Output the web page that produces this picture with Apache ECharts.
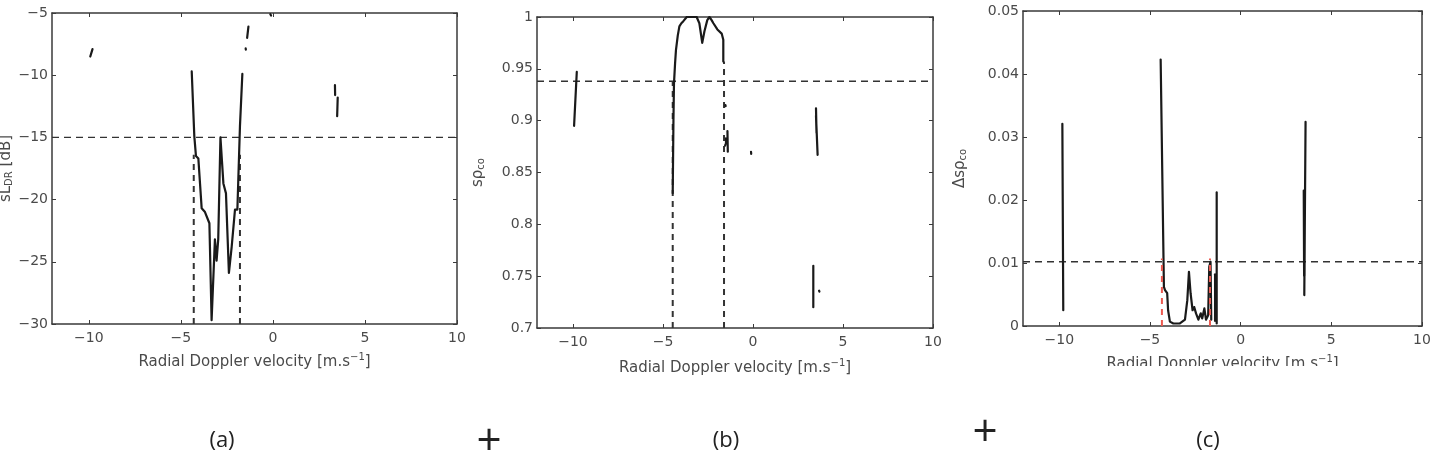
<!DOCTYPE html>
<html>
<head>
<meta charset="utf-8">
<script src="https://cdn.jsdelivr.net/npm/echarts@6/dist/echarts.min.js"></script>
<style>
  html, body { margin: 0; background: #fff; }
  #main { width: 1432px; height: 474px; }
</style>
</head>
<body>
<div id="main"></div>
<script>
// x ticks shared by the three panels
var velTicks = [-10, -5, 0, 5, 10];

// (a) sL_DR [dB]
var velA = [-4.41, -4.27, -4.18, -4.05, -3.87, -3.69, -3.45, -3.33, -3.15, -3.06, -2.97, -2.85, -2.82, -2.69, -2.55, -2.39, -2.24, -2.06, -1.93, -1.79, -1.66];
var sldrA = [-9.7, -14.9, -16.5, -16.7, -20.7, -21.0, -21.9, -29.7, -23.2, -24.9, -23.2, -15.0, -15.0, -18.7, -19.5, -25.9, -23.8, -20.8, -20.8, -14.1, -9.9];
var piecesA = [
  [[-9.92, -8.5], [-9.8, -7.9]],
  [[-1.40, -7.0], [-1.33, -6.1]],
  [[-1.48, -7.85], [-1.47, -7.95]],
  [[-0.14, -5.1], [-0.10, -5.2]],
  [[3.37, -10.8], [3.38, -11.6]],
  [[3.52, -11.8], [3.49, -13.3]]
];
var levelA = -15;
var cutsA = [-4.30, -1.79];
var cutTopA = [-16.4, -16.4];

// (b) s rho_co
var velB = [-4.46, -4.42, -4.39, -4.33, -4.28, -4.18, -4.09, -3.98, -3.87, -3.68, -3.40, -3.13, -2.98, -2.82, -2.70, -2.54, -2.42, -2.30, -2.20, -1.98, -1.74, -1.65, -1.65];
var rhoB = [0.830, 0.900, 0.936, 0.955, 0.968, 0.982, 0.991, 0.994, 0.996, 1.0, 1.0, 1.0, 0.994, 0.975, 0.986, 0.997, 1.0, 0.997, 0.994, 0.988, 0.984, 0.978, 0.957];
var piecesB = [
  [[-9.94, 0.895], [-9.79, 0.947]],
  [[-1.42, 0.890], [-1.40, 0.870]],
  [[-1.55, 0.876], [-1.50, 0.878], [-1.50, 0.883]],
  [[-1.53, 0.915], [-1.52, 0.914]],
  [[-0.11, 0.870], [-0.10, 0.868]],
  [[3.50, 0.912], [3.53, 0.888], [3.50, 0.905], [3.59, 0.867]],
  [[3.35, 0.760], [3.35, 0.720]],
  [[3.67, 0.736], [3.69, 0.735]]
];
var levelB = 0.938;
var cutsB = [-4.46, -1.61];
var cutTopB = [0.938, 0.957];

// (c) delta s rho_co
var velC = [-4.41, -4.23, -4.17, -4.05, -4.0, -3.9, -3.71, -3.35, -3.07, -2.94, -2.85, -2.76, -2.65, -2.56, -2.46, -2.33, -2.2, -2.12, -2.0, -1.91, -1.79, -1.73, -1.66, -1.62];
var drhoC = [0.0423, 0.0062, 0.0057, 0.0052, 0.0025, 0.0007, 0.0004, 0.0004, 0.001, 0.0041, 0.0086, 0.0052, 0.0025, 0.003, 0.002, 0.001, 0.002, 0.0012, 0.0028, 0.001, 0.0017, 0.0094, 0.0102, 0.001];
var piecesC = [
  [[-9.83, 0.0321], [-9.78, 0.0025]],
  [[-1.32, 0.0212], [-1.32, 0.0004]],
  [[-1.41, 0.0082], [-1.41, 0.0008]],
  [[3.58, 0.0324], [3.51, 0.0049]],
  [[3.48, 0.0215], [3.50, 0.0080]],
  [[3.40, 0.0417], [3.41, 0.0416]]
];
var levelC = 0.0102;
var cutsC = [-4.34, -1.69];
var cutTopC = [0.0107, 0.0107];

var ink = "#1a1a1a";
var textCol = "#4a4a4a";
var font = "DejaVu Sans";

function fmt(v) {
  return String(parseFloat(v.toFixed(3))).replace("-", "\u2212");
}

var panels = [
  { grid: { left: 52, top: 13, width: 405, height: 311 }, ymin: -30, ymax: -5, step: 5,
    yname: "sL{sub|DR} [dB]", ygap: 37, xgap: 28,
    vel: velA, val: sldrA, pieces: piecesA, level: levelA, cuts: cutsA, cutTop: cutTopA, cutColor: "#333", cutZ: 2 },
  { grid: { left: 537, top: 17, width: 396, height: 311 }, ymin: 0.7, ymax: 1, step: 0.05,
    yname: "s\u03c1{sub|co}", ygap: 51, xgap: 30,
    vel: velB, val: rhoB, pieces: piecesB, level: levelB, cuts: cutsB, cutTop: cutTopB, cutColor: "#333", cutZ: 2 },
  { grid: { left: 1023, top: 11, width: 399, height: 315 }, ymin: 0, ymax: 0.05, step: 0.01,
    yname: "\u0394s\u03c1{sub|co}", ygap: 55, xgap: 28,
    vel: velC, val: drhoC, pieces: piecesC, level: levelC, cuts: cutsC, cutTop: cutTopC, cutColor: "#ec5a50", cutZ: 4 }
];

var grids = [], xAxes = [], yAxes = [], series = [];

panels.forEach(function (p, i) {
  grids.push(Object.assign({ outerBoundsMode: "none", containLabel: false }, p.grid));
  var line = { show: true, onZero: false, lineStyle: { color: "#3a3a3a", width: 1.5 } };
  var tick = { show: true, inside: true, length: 4, lineStyle: { color: "#3a3a3a" } };
  xAxes.push({
    gridIndex: i, type: "value", min: -12, max: 10, position: "bottom",
    axisLine: line, splitLine: { show: false },
    axisTick: Object.assign({ customValues: velTicks }, tick),
    axisLabel: { customValues: velTicks, formatter: fmt, color: textCol, fontFamily: font, fontSize: 14, margin: 7 },
    name: "Radial Doppler velocity [m.s{sup|\u22121}]", nameLocation: "middle", nameGap: p.xgap,
    nameTextStyle: { color: textCol, fontFamily: font, fontSize: 15, lineHeight: 20,
      rich: { sup: { fontSize: 10, fontFamily: font, color: textCol, verticalAlign: "top", lineHeight: 12, padding: [0, 0, 8, 0] } } }
  });
  xAxes.push({
    gridIndex: i, type: "value", min: -12, max: 10, position: "top",
    axisLine: line, splitLine: { show: false },
    axisTick: Object.assign({ customValues: velTicks }, tick),
    axisLabel: { show: false }
  });
  yAxes.push({
    gridIndex: i, type: "value", min: p.ymin, max: p.ymax, interval: p.step, position: "left",
    axisLine: line, axisTick: tick, splitLine: { show: false },
    axisLabel: { formatter: fmt, color: textCol, fontFamily: font, fontSize: 14, margin: 4 },
    name: p.yname, nameLocation: "middle", nameRotate: 90, nameGap: p.ygap,
    nameTextStyle: { color: textCol, fontFamily: font, fontSize: 15,
      rich: { sub: { fontSize: 10, fontFamily: font, color: textCol, padding: [6, 0, 0, 0] } } }
  });
  yAxes.push({
    gridIndex: i, type: "value", min: p.ymin, max: p.ymax, interval: p.step, position: "right",
    axisLine: line, axisTick: tick, splitLine: { show: false }, axisLabel: { show: false }
  });

  var base = { type: "line", xAxisIndex: 2 * i, yAxisIndex: 2 * i, showSymbol: false, silent: true, animation: false };

  // thresholds
  series.push(Object.assign({}, base, {
    data: [[-12, p.level], [10, p.level]],
    lineStyle: { color: "#333", width: 1.3, type: [7, 5] }
  }));
  p.cuts.forEach(function (c, k) {
    series.push(Object.assign({}, base, {
      z: p.cutZ,
      data: [[c, p.ymin], [c, p.cutTop[k]]],
      lineStyle: { color: p.cutColor, width: 2, type: [6, 5] }
    }));
  });

  // main curve
  series.push(Object.assign({}, base, {
    z: 3,
    data: p.vel.map(function (v, k) { return [v, p.val[k]]; }),
    lineStyle: { color: ink, width: 2.2, cap: "round", join: "round" }
  }));
  // isolated pieces
  p.pieces.forEach(function (seg) {
    series.push(Object.assign({}, base, {
      z: 3,
      data: seg,
      lineStyle: { color: ink, width: 2.2, cap: "round" }
    }));
  });
});

var labelFont = '22px "Open Sans"';
var plusFont = '44px "Open Sans"';
var chart = echarts.init(document.getElementById("main"));
chart.setOption({
  backgroundColor: "#fff",
  grid: grids,
  xAxis: xAxes,
  yAxis: yAxes,
  series: series,
  graphic: [
    { type: "rect", x: 1080, y: 366, shape: { width: 352, height: 20 }, style: { fill: "#fff" }, z: 100 },
    { type: "text", x: 222, y: 441, style: { text: "(a)", font: labelFont, fill: "#222", align: "center", verticalAlign: "middle" } },
    { type: "text", x: 489, y: 442, style: { text: "+", font: plusFont, fill: "#222", align: "center", verticalAlign: "middle" } },
    { type: "text", x: 726, y: 441, style: { text: "(b)", font: labelFont, fill: "#222", align: "center", verticalAlign: "middle" } },
    { type: "text", x: 985, y: 433, style: { text: "+", font: plusFont, fill: "#222", align: "center", verticalAlign: "middle" } },
    { type: "text", x: 1208, y: 441, style: { text: "(c)", font: labelFont, fill: "#222", align: "center", verticalAlign: "middle" } }
  ]
});
</script>
</body>
</html>
